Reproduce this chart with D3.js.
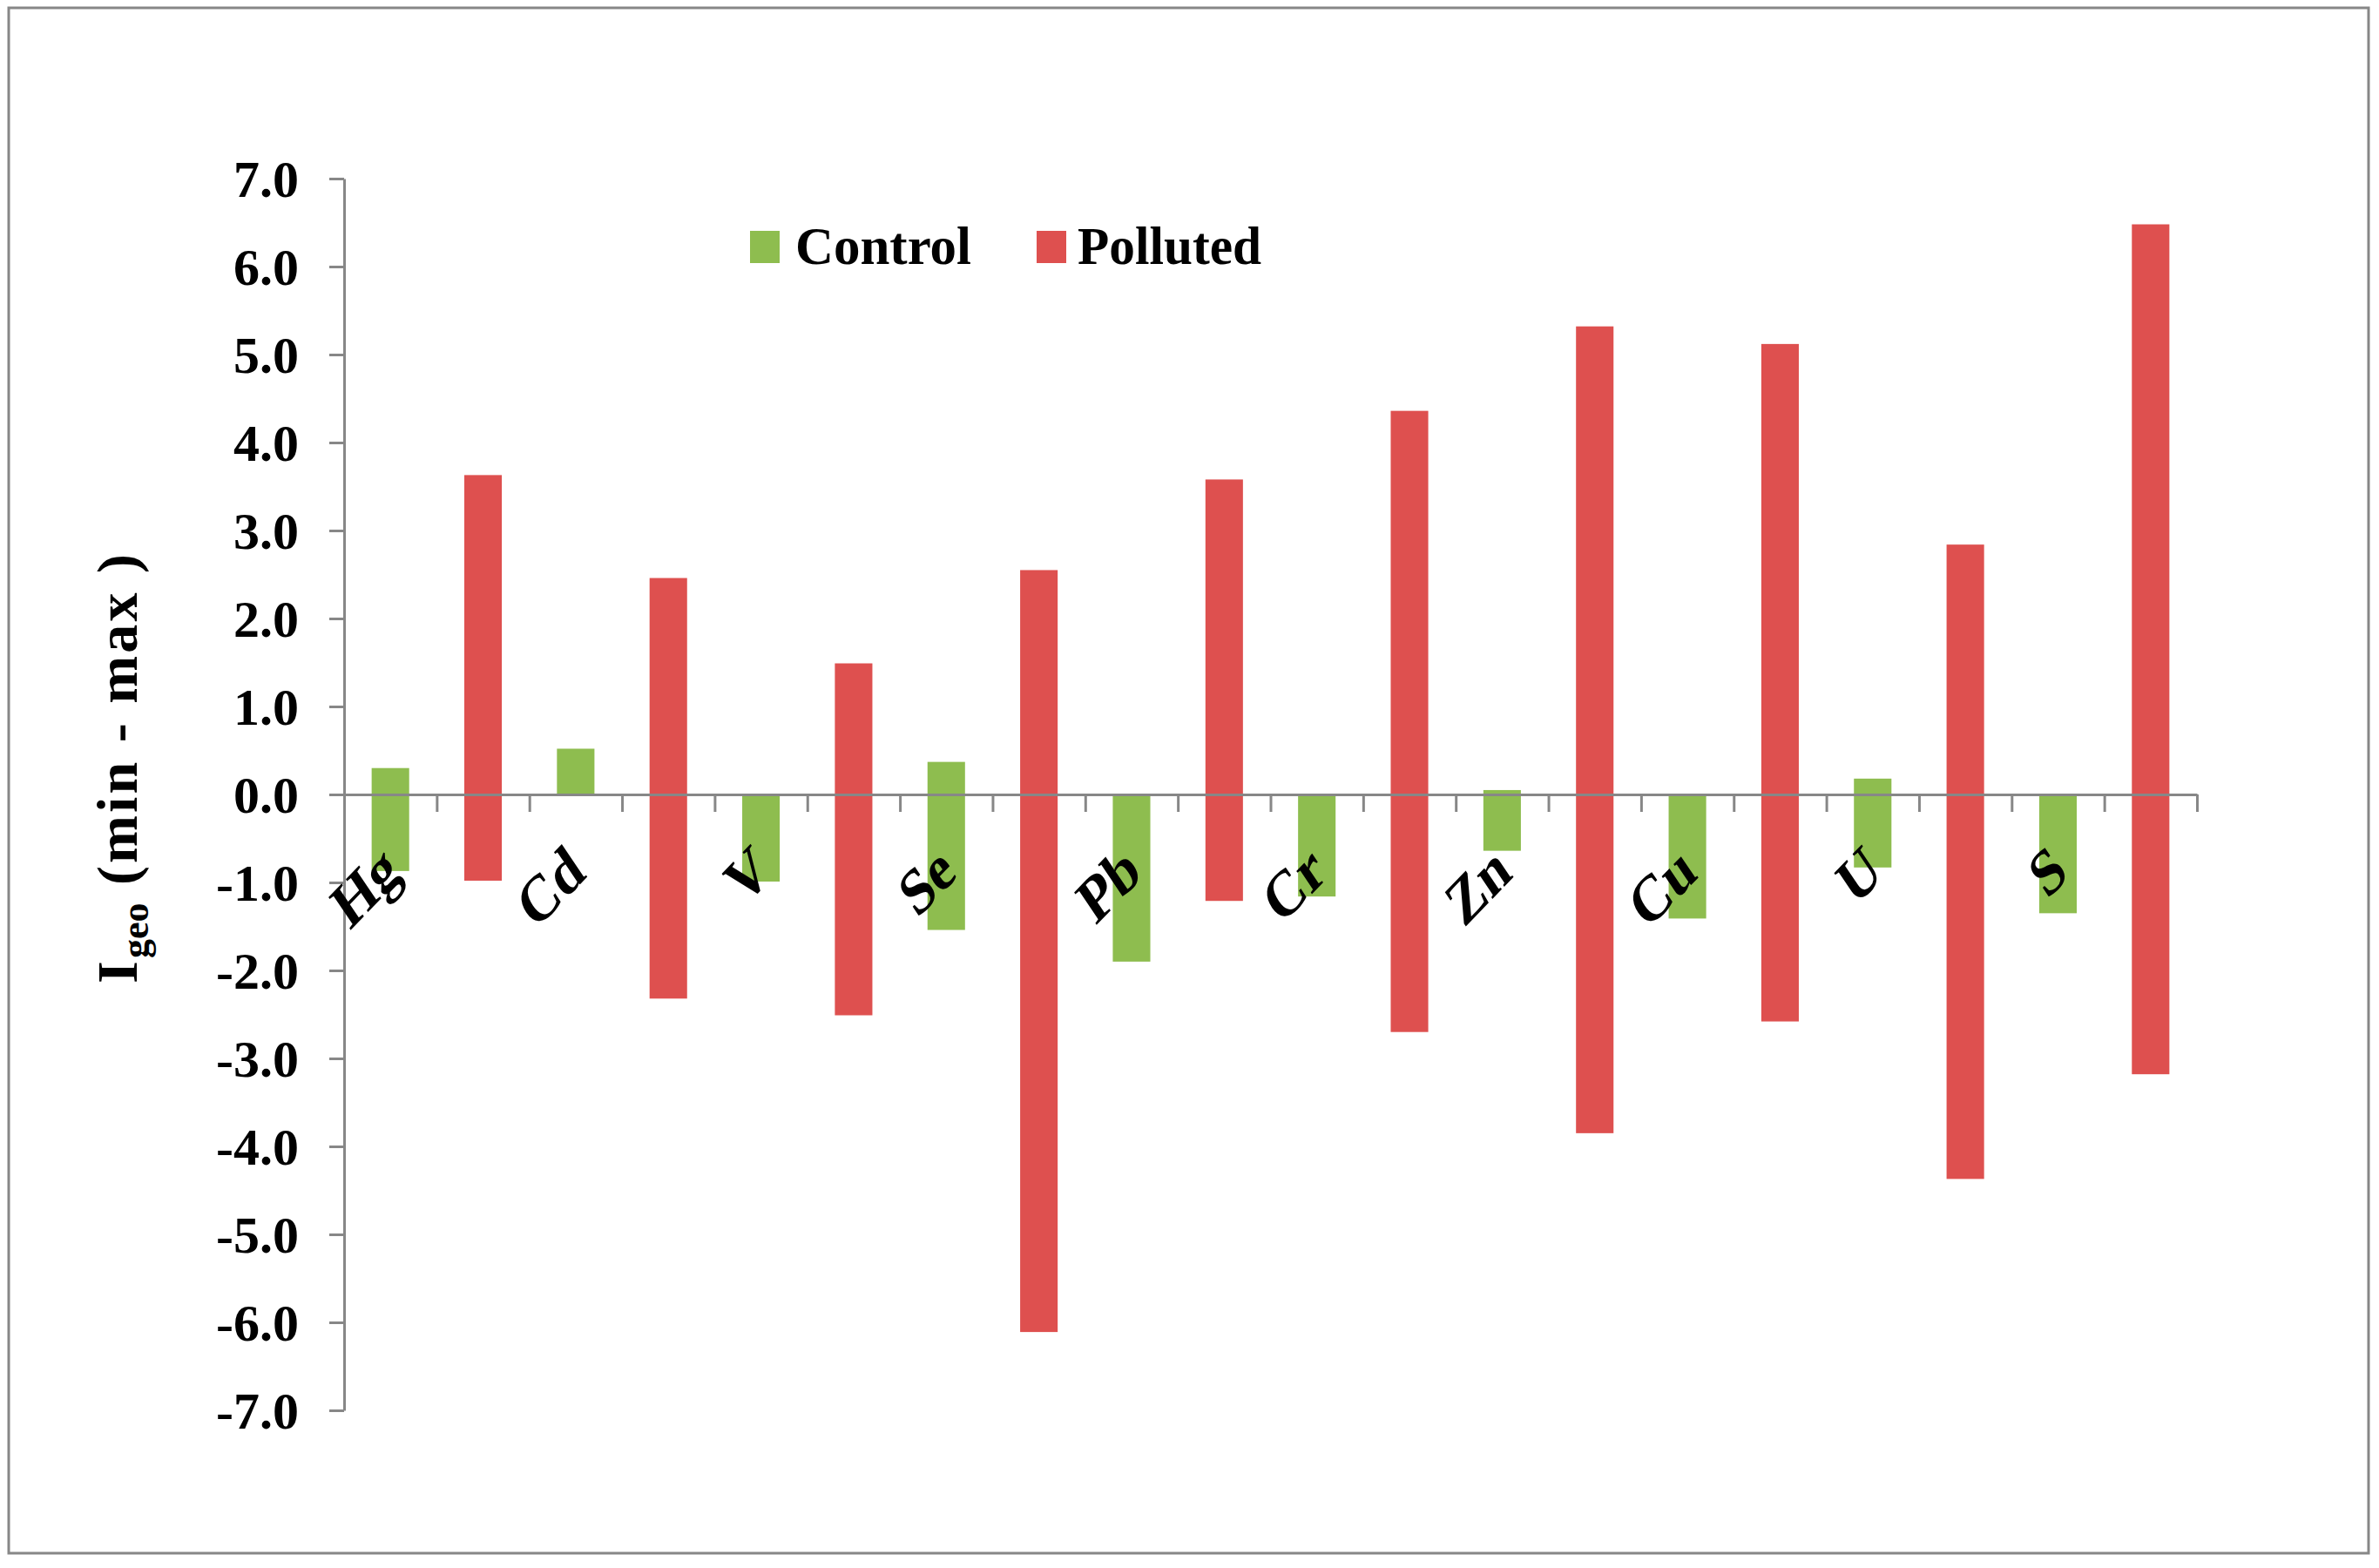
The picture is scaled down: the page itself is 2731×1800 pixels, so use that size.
<!DOCTYPE html>
<html>
<head>
<meta charset="utf-8">
<script src="https://cdn.jsdelivr.net/npm/d3@7"></script>
<style>
  html, body { margin: 0; padding: 0; background: #ffffff; }
  svg { display: block; }
  text { font-family: "Liberation Serif", "Times New Roman", serif; font-weight: bold; fill: #000; }
</style>
</head>
<body>
<svg id="chart" width="2731" height="1800"></svg>
<script>
// ---- data ----
const elements    = ["Hg", "Cd", "V", "Se", "Pb", "Cr", "Zn", "Cu", "U", "S"];
const seriesNames = ["Control", "Polluted"];
const controlMin  = [-0.87, 0.00, -0.99, -1.54, -1.90, -1.16, -0.64, -1.41, -0.83, -1.35];
const controlMax  = [ 0.30, 0.52,  0.00,  0.37,  0.00,  0.00,  0.05,  0.00,  0.18,  0.00];
const pollutedMin = [-0.98, -2.32, -2.51, -6.11, -1.21, -2.70, -3.85, -2.58, -4.37, -3.18];
const pollutedMax = [ 3.63,  2.46,  1.49,  2.55,  3.58,  4.36,  5.32,  5.12,  2.84,  6.48];
const yTicks      = [-7, -6, -5, -4, -3, -2, -1, 0, 1, 2, 3, 4, 5, 6, 7];
const colors      = { Control: "#8EBD4F", Polluted: "#DE504F" };

// ---- layout ----
const svg = d3.select("#chart");
const W = 2731, H = 1800;
const plot = { left: 395, right: 2522, top: 205, bottom: 1619 };
const axisColor = "#878787";

svg.append("rect").attr("x", 0).attr("y", 0).attr("width", W).attr("height", H).attr("fill", "#fff");
// outer frame
svg.append("rect")
  .attr("x", 10).attr("y", 9).attr("width", 2709).attr("height", 1774)
  .attr("fill", "none").attr("stroke", axisColor).attr("stroke-width", 3);

// slots: one per (element, series)
const slots = [];
elements.forEach((e, i) => {
  slots.push({ el: e, series: "Control", min: controlMin[i], max: controlMax[i] });
  slots.push({ el: e, series: "Polluted", min: pollutedMin[i], max: pollutedMax[i] });
});
const slotKey = d => d.el + "|" + d.series;

const x = d3.scaleBand().domain(slots.map(slotKey)).range([plot.left, plot.right]).padding(0);
const y = d3.scaleLinear().domain([-7, 7]).range([plot.bottom, plot.top]);
const barW = x.bandwidth() * 0.405;

// bars (floating min-max)
svg.append("g").selectAll("rect").data(slots).join("rect")
  .attr("x", d => x(slotKey(d)) + (x.bandwidth() - barW) / 2)
  .attr("width", barW)
  .attr("y", d => y(d.max))
  .attr("height", d => Math.max(0, y(d.min) - y(d.max)))
  .attr("fill", d => colors[d.series]);

// y axis
const fmt = v => d3.format(".1f")(v).replace("−", "-");
const yAxis = svg.append("g").attr("transform", `translate(${plot.left},0)`)
  .call(d3.axisLeft(y).tickValues(yTicks).tickSize(17).tickSizeOuter(0).tickPadding(35).tickFormat(fmt));
yAxis.select(".domain").attr("stroke", axisColor).attr("stroke-width", 3);
yAxis.selectAll(".tick line").attr("stroke", axisColor).attr("stroke-width", 3);
yAxis.selectAll(".tick text")
  .attr("font-size", 60).attr("font-family", "'Liberation Serif', 'Times New Roman', serif")
  .attr("font-weight", "bold").attr("fill", "#000").attr("dy", "0.34em");

// x axis (at zero), ticks at slot boundaries
const xb = d3.scaleLinear().domain([0, slots.length]).range([plot.left, plot.right]);
const xAxis = svg.append("g").attr("transform", `translate(0,${y(0)})`)
  .call(d3.axisBottom(xb).tickValues(d3.range(1, slots.length + 1)).tickSize(20).tickSizeOuter(0).tickFormat(""));
xAxis.select(".domain").attr("stroke", axisColor).attr("stroke-width", 3);
xAxis.selectAll(".tick line").attr("stroke", axisColor).attr("stroke-width", 3);

// category labels (rotated, slanted), one per element at the Control slot
svg.append("g").selectAll("text").data(elements).join("text")
  .attr("transform", e => {
    const cx = x(e + "|Control") + x.bandwidth() / 2 + 14;
    return `translate(${cx},1006) rotate(-46) skewX(-12)`;
  })
  .attr("text-anchor", "end")
  .attr("font-size", 68)
  .text(e => e);

// y axis title: I_geo (min - max )
const title = svg.append("g").attr("transform", "translate(157,1129) rotate(-90)");
title.append("text").attr("x", 0).attr("y", 0).attr("font-size", 66).text("I");
title.append("text").attr("x", 29).attr("y", 13).attr("font-size", 44).text("geo");
title.append("text").attr("x", 113).attr("y", 0).attr("font-size", 66)
  .attr("textLength", 380).attr("lengthAdjust", "spacing").text("(min - max )");

// legend
const legend = svg.append("g");
const legendItems = [
  { name: seriesNames[0], sx: 861, tx: 913, len: 202 },
  { name: seriesNames[1], sx: 1190, tx: 1237, len: 211 }
];
legendItems.forEach(it => {
  legend.append("rect").attr("x", it.sx).attr("y", 265).attr("width", 34).attr("height", 37)
    .attr("fill", colors[it.name]);
  legend.append("text").attr("x", it.tx).attr("y", 303).attr("font-size", 62)
    .attr("textLength", it.len).attr("lengthAdjust", "spacingAndGlyphs").text(it.name);
});
</script>
</body>
</html>
